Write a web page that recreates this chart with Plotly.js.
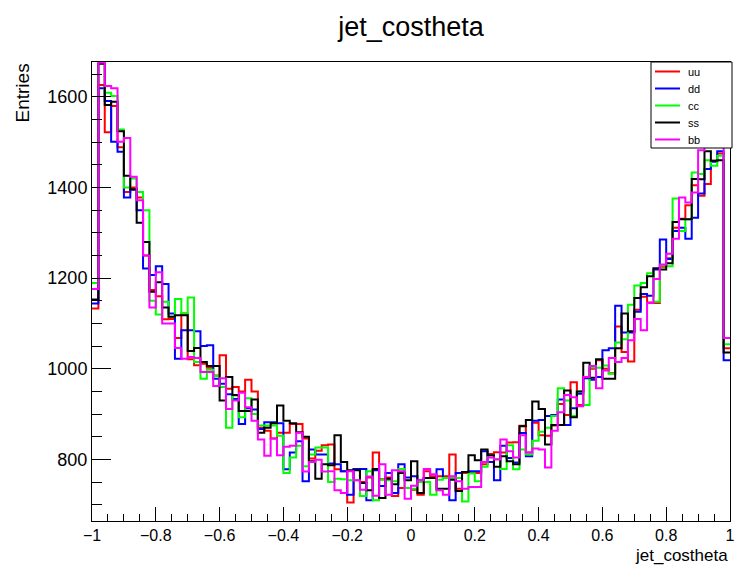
<!DOCTYPE html>
<html><head><meta charset="utf-8">
<script src="https://cdn.plot.ly/plotly-3.0.1.min.js"></script>
<style>html,body{margin:0;padding:0;background:#fff}#chart{width:737px;height:565px}</style>
</head><body><div id="chart"></div>
<script>
const seriesNames = ['uu', 'dd', 'cc', 'ss', 'bb'];
const seriesColors = ['#ff0000', '#0000ff', '#00ff00', '#000000', '#ff00ff'];
const binLow = -1;
const binHigh = 1;

const uu = [1133, 1626, 1522, 1580, 1489, 1390, 1400, 1378,
  1250, 1174, 1160, 1109, 1110, 1068, 1122, 1021, 1008, 1011,
  1002, 985, 1030, 956, 960, 950, 976, 950, 870, 863, 846, 859, 859,
  878, 878, 846, 802, 819, 831, 833, 778, 774, 705, 778, 750, 760, 815, 756, 760, 719, 737, 737, 733,
  722, 774, 763, 763, 763, 811, 735, 770, 770, 770, 789, 812, 816, 815, 837, 838, 874, 815, 881,
  853, 852, 875, 922, 898, 970, 920, 982, 1000, 1019, 1000, 990, 1093, 1037, 1016, 1130,
  1159, 1146, 1145, 1225, 1244, 1311, 1331, 1361, 1405, 1382, 1408, 1459, 1475, 1045];

const dd = [1144, 1619, 1591, 1501, 1479, 1378, 1395, 1350,
  1221, 1207, 1226, 1187, 1122, 1022, 1085, 1085, 1083, 1050,
  1052, 978, 967, 944, 933, 878, 913, 910, 867, 882, 882, 880, 778,
  815, 840, 752, 822, 811, 811, 791, 789, 774, 722, 779, 779, 710, 776, 741, 770, 726, 789, 760, 763,
  754, 759, 759, 778, 759, 710, 770, 772, 774, 774, 818, 794, 754, 830, 803, 793, 858, 807, 885,
  887, 896, 898, 932, 876, 913, 945, 979, 976, 982, 1041, 1045, 1139, 1080, 1080, 1126,
  1165, 1161, 1219, 1285, 1242, 1304, 1311, 1287, 1333, 1387, 1441, 1457, 1480, 1019];

const cc = [1189, 1678, 1609, 1602, 1528, 1400, 1420, 1390,
  1350, 1150, 1120, 1148, 1115, 1154, 1122, 1157, 1015, 978,
  998, 984, 960, 870, 941, 893, 935, 900, 875, 875, 875, 852, 770,
  804, 830, 785, 811, 826, 826, 750, 757, 756, 754, 754, 719, 774, 710, 755, 754, 752, 779, 737, 735,
  750, 750, 722, 755, 759, 759, 759, 707, 769, 752, 784, 809, 801, 779, 831, 778, 822, 811, 841,
  861, 870, 896, 957, 930, 896, 950, 920, 1003, 1002, 1007, 989, 1058, 1065, 1141, 1184,
  1189, 1211, 1148, 1228, 1226, 1376, 1304, 1330, 1433, 1430, 1460, 1448, 1470, 1054];

const ss = [1153, 1673, 1582, 1589, 1524, 1426, 1396, 1322,
  1280, 1170, 1191, 1135, 1115, 1118, 1118, 1039, 1046, 1015,
  1006, 1006, 930, 982, 942, 907, 907, 932, 859, 870, 880, 919, 885,
  880, 860, 850, 796, 757, 789, 787, 853, 794, 776, 776, 748, 732, 779, 715, 757, 745, 770, 754, 796,
  726, 759, 759, 735, 735, 755, 730, 772, 809, 798, 822, 809, 784, 807, 796, 789, 873, 887, 928,
  911, 833, 876, 876, 952, 893, 950, 1013, 980, 1021, 978, 978, 1045, 1122, 1083, 1156,
  1180, 1204, 1222, 1219, 1233, 1324, 1330, 1330, 1419, 1418, 1480, 1459, 1460, 1036];

const bb = [1176, 1676, 1624, 1619, 1501, 1509, 1424, 1372,
  1250, 1135, 1213, 1100, 1100, 1046, 1022, 1026, 1024, 993,
  993, 962, 979, 911, 930, 947, 915, 885, 844, 808, 846, 809, 828,
  830, 859, 773, 794, 799, 773, 774, 732, 726, 774, 754, 733, 762, 720, 789, 722, 776, 774, 713, 742,
  754, 779, 767, 732, 722, 763, 752, 735, 739, 739, 794, 804, 800, 844, 818, 804, 853, 815, 824,
  822, 782, 863, 904, 942, 937, 917, 982, 1006, 957, 996, 1024, 1015, 1024, 1063, 1110,
  1085, 1145, 1198, 1230, 1254, 1287, 1378, 1367, 1389, 1482, 1500, 1510, 1505, 1068];

const seriesValues = [uu, dd, cc, ss, bb];

function binEdges(n) {
  const w = (binHigh - binLow) / n;
  const xs = [];
  for (let i = 0; i <= n; i++) xs.push(binLow + i * w);
  return xs;
}

const traces = seriesValues.map(function (vals, k) {
  return {
    type: 'scatter',
    mode: 'lines',
    name: seriesNames[k],
    x: binEdges(vals.length),
    y: vals.concat([vals[vals.length - 1]]),
    line: { shape: 'hv', color: seriesColors[k], width: 2 },
    hoverinfo: 'x+y+name'
  };
});

const FONT = '"Liberation Sans", Arial, Helvetica, sans-serif';

// plot area in pixels: left 92, right 730, top 62, bottom 521
const PL = 92, PW = 638, PT = 62, PH = 459;
function px2x(p) { return (p - PL) / PW; }
function py2y(p) { return (PT + PH - p) / PH; }

// legend box drawn as shapes + text (ROOT TLegend look)
const shapes = [{
  type: 'rect', xref: 'paper', yref: 'paper', layer: 'above',
  x0: px2x(651), x1: px2x(732), y0: py2y(62), y1: py2y(148),
  line: { color: '#000', width: 1 }, fillcolor: '#ffffff'
}];
const annotations = [
  { text: 'jet_costheta', xref: 'paper', yref: 'paper', x: 1, y: py2y(555),
    xanchor: 'right', yanchor: 'middle', showarrow: false, font: { size: 17, family: FONT, color: '#000' } },
  { text: 'Entries', xref: 'paper', yref: 'paper', x: px2x(22), y: 1,
    xanchor: 'center', yanchor: 'top', textangle: -90, showarrow: false, font: { size: 19, family: FONT, color: '#000' } }
];
const legendRowY = [71.5, 88.5, 105.5, 122.5, 139.5];
seriesNames.forEach(function (nm, k) {
  shapes.push({ type: 'line', xref: 'paper', yref: 'paper', layer: 'above',
    x0: px2x(655), x1: px2x(680), y0: py2y(legendRowY[k]), y1: py2y(legendRowY[k]),
    line: { color: seriesColors[k], width: 2 } });
  annotations.push({ text: nm, xref: 'paper', yref: 'paper', x: px2x(686), y: py2y(legendRowY[k]),
    xanchor: 'left', yanchor: 'middle', showarrow: false, font: { size: 11, family: FONT, color: '#000000' } });
});

const layout = {
  width: 737, height: 565,
  margin: { l: 92, r: 7, t: 62, b: 44, pad: 0 },
  paper_bgcolor: '#ffffff', plot_bgcolor: '#ffffff',
  font: { family: FONT, color: '#000000' },
  showlegend: false,
  title: { text: 'jet_costheta', font: { size: 27, family: FONT, color: '#000' },
           x: 0.5, xref: 'paper', xanchor: 'center', y: 1 - 27 / 565, yref: 'container', yanchor: 'middle' },
  xaxis: {
    range: [binLow, binHigh], tick0: -1, dtick: 0.2,
    ticks: 'inside', ticklen: 14, tickwidth: 1, tickcolor: '#000',
    minor: { tick0: -1, dtick: 0.05, ticks: 'inside', ticklen: 7, tickwidth: 1, tickcolor: '#000', showgrid: false },
    showline: true, linecolor: '#000', linewidth: 1, mirror: true,
    showgrid: false, zeroline: false,
    tickfont: { size: 16, family: FONT, color: '#000' }
  },
  yaxis: {
    range: [664, 1677], tick0: 0, dtick: 200,
    ticks: 'inside', ticklen: 19, tickwidth: 1, tickcolor: '#000',
    minor: { tick0: 0, dtick: 50, ticks: 'inside', ticklen: 10, tickwidth: 1, tickcolor: '#000', showgrid: false },
    showline: true, linecolor: '#000', linewidth: 1, mirror: true,
    showgrid: false, zeroline: false,
    tickfont: { size: 18, family: FONT, color: '#000' }
  },
  shapes: shapes,
  annotations: annotations
};

Plotly.newPlot('chart', traces, layout, { displayModeBar: false, staticPlot: true });
</script>
</body></html>
